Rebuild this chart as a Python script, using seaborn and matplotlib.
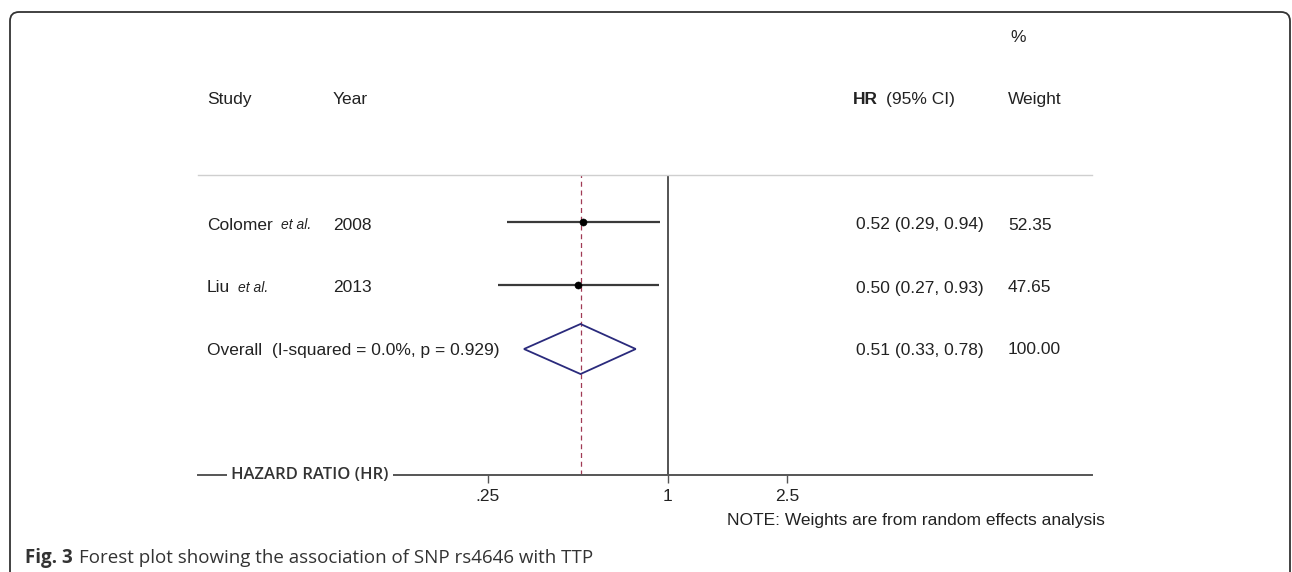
import numpy as np
import pandas as pd
import seaborn as sns
import matplotlib.pyplot as plt
from matplotlib.patches import Polygon, FancyBboxPatch
from matplotlib.ticker import NullLocator
from matplotlib.transforms import IdentityTransform

# Study data
studies = ["Colomer", "Liu"]
years = ["2008", "2013"]
hr = [0.52, 0.50]
ci_low = [0.29, 0.27]
ci_high = [0.94, 0.93]
weights = ["52.35", "47.65"]

overall_label = "Overall  (I-squared = 0.0%, p = 0.929)"
overall_hr = 0.51
overall_low = 0.33
overall_high = 0.78
overall_weight = "100.00"

tick_values = [0.25, 1, 2.5]
tick_labels = [".25", "1", "2.5"]

W, H = 1292, 572
sns.set_theme(style="white")
plt.rcParams['font.family'] = ['Liberation Sans', 'DejaVu Sans']

fig = plt.figure(figsize=(W / 100, H / 100), dpi=100)


def fx(px):
    return px / W


def fy(py):
    return 1 - py / H


# plot region: separator at y=175, axis at y=475, from x=198 to 1092
ax = fig.add_axes([fx(198), fy(475), fx(1092) - fx(198), fy(175) - fy(475)])
ax.set_xscale('log')
ax.set_xlim(np.exp((198 - 668) / 129.9), np.exp((1092 - 668) / 129.9))
ax.set_ylim(3.984, -0.740)

df = pd.DataFrame({"study": studies, "hr": hr, "low": ci_low, "high": ci_high})
df["row"] = np.arange(len(df))
ov_row = len(df)

ax.axvline(1, color='#454545', lw=1.3, zorder=2)
ax.axvline(overall_hr, color='#a03a55', lw=0.9, ls=(0, (4, 3)), zorder=1)

ax.hlines(df["row"], df["low"], df["high"], color='#3a3a3a', lw=1.6, zorder=3)
sns.scatterplot(data=df, x="hr", y="row", color='black', s=26,
                edgecolor='black', legend=False, zorder=5, ax=ax)

dh = 0.394
diamond = Polygon([(overall_low, ov_row), (overall_hr, ov_row - dh),
                   (overall_high, ov_row), (overall_hr, ov_row + dh)],
                  closed=True, fill=False, edgecolor='#2a2a7c', lw=1.3, zorder=4)
ax.add_patch(diamond)

ax.spines['left'].set_visible(False)
ax.spines['right'].set_visible(False)
ax.spines['top'].set_color('#cfcfcf')
ax.spines['top'].set_linewidth(1.0)
ax.spines['bottom'].set_color('#555555')
ax.spines['bottom'].set_linewidth(1.4)

ax.set_xticks(tick_values)
ax.set_xticklabels(tick_labels)
ax.xaxis.set_minor_locator(NullLocator())
ax.tick_params(axis='x', bottom=True, direction='out', length=6, width=1,
               color='#555555', pad=4, labelsize=12.5, labelcolor='#222222')
ax.set_yticks([])
ax.set_xlabel("")
ax.set_ylabel("")
ax.patch.set_alpha(0)

# axis title sitting on the axis line
fig.text(fx(310), fy(475), "HAZARD RATIO (HR)", ha='center', va='center',
         family='Open Sans', fontweight='semibold', fontsize=12, color='#333333',
         bbox=dict(facecolor='white', edgecolor='none', pad=3))

txt = dict(fontsize=12.5, color='#222222', va='center')

# headers
fig.text(fx(1010), fy(38), "%", **txt)
fig.text(fx(207), fy(99), "Study", **txt)
fig.text(fx(333), fy(99), "Year", **txt)
fig.text(fx(853), fy(99), "HR", fontweight='bold', **txt)
fig.text(fx(886), fy(99), "(95% CI)", **txt)
fig.text(fx(1008), fy(99), "Weight", **txt)

renderer = fig.canvas.get_renderer()
row_y = [225, 288]
for i, name in enumerate(studies):
    t = fig.text(fx(207), fy(row_y[i]), name, **txt)
    bb = t.get_window_extent(renderer)
    fig.text((bb.x1 + 8) / W, fy(row_y[i]), "et al.", fontstyle='italic',
             fontsize=10, color='#222222', va='center')
    fig.text(fx(333), fy(row_y[i]), years[i], **txt)
    fig.text(fx(856), fy(row_y[i]), f"{hr[i]:.2f} ({ci_low[i]:.2f}, {ci_high[i]:.2f})", **txt)
    fig.text(fx(1008), fy(row_y[i]), weights[i], **txt)

fig.text(fx(207), fy(350), overall_label, **txt)
fig.text(fx(856), fy(350), f"{overall_hr:.2f} ({overall_low:.2f}, {overall_high:.2f})", **txt)
fig.text(fx(1008), fy(350), overall_weight, **txt)

fig.text(fx(1105), fy(520), "NOTE: Weights are from random effects analysis",
         ha='right', **txt)

# caption
cap = fig.text(fx(25), fy(558), "Fig. 3", family='Open Sans', fontweight='bold',
               fontsize=13.5, color='#333333', va='center')
bb = cap.get_window_extent(renderer)
fig.text((bb.x1 + 6) / W, fy(558), "Forest plot showing the association of SNP rs4646 with TTP",
         family='Open Sans', fontsize=13.5, color='#333333', va='center')

# rounded frame, open at the bottom
frame = FancyBboxPatch((10, -30), 1280, H - 12 + 30,
                       boxstyle="round,pad=0,rounding_size=9",
                       transform=IdentityTransform(), fill=False,
                       edgecolor='#333333', lw=1.3)
fig.patches.append(frame)

fig.savefig("out.png", dpi=100)
